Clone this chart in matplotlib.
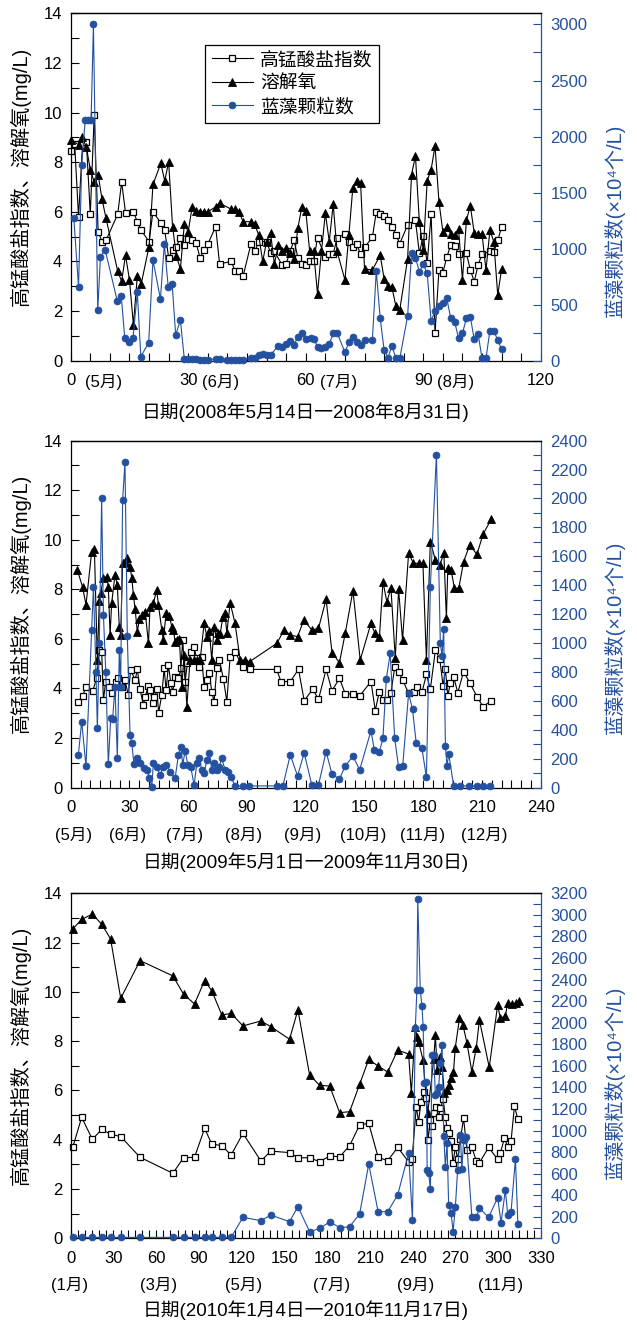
import matplotlib
matplotlib.use('Agg')
import matplotlib.pyplot as plt
from matplotlib.ticker import MultipleLocator
from matplotlib.lines import Line2D

FAM = ['Liberation Sans', 'Noto Sans CJK SC', 'DejaVu Sans']
plt.rcParams['font.family'] = FAM
plt.rcParams['axes.unicode_minus'] = False
BLUE = '#23509f'

# ---------------- Panel 1 : 2008 ----------------
p1_sq_day = [0, 1, 2, 3, 4, 5, 6, 7, 8, 9,
             12, 13, 14, 16, 17, 18, 20, 21, 23, 24, 25, 26, 27, 28, 29, 30, 31, 32, 33, 34, 35, 37, 38,
             41, 42, 43, 44, 46, 47, 48, 50, 51, 52, 54, 55, 56, 57, 58, 59, 60,
             61, 62, 63, 65, 66, 67, 68, 70, 71, 72, 73, 74, 75, 77, 78, 79, 80, 81, 82, 83, 84, 86, 88,
             89, 90, 91, 92, 93, 94, 95, 96, 97, 98, 99, 101, 102, 103, 104, 105, 107, 108, 109, 110]
p1_sq_val = [8.45, 8.75, 5.8, 8.7, 8.8, 5.9, 9.9, 5.2, 4.8, 4.85,
             5.9, 7.2, 5.95, 6.0, 5.6, 5.25, 4.8, 6.0, 5.55, 5.25, 4.15, 4.45, 4.6, 4.95, 4.65, 4.9, 4.85,
             4.75, 4.15, 4.45, 4.7, 5.4, 3.9,
             4.0, 3.6, 3.6, 3.4, 4.7, 4.4, 4.8, 4.8, 4.35, 4.4, 3.85, 3.9, 4.4, 4.85, 4.15, 3.9, 3.85,
             4.0, 4.0, 4.96, 4.17, 4.29, 4.31, 4.93, 5.12, 4.77, 4.58, 4.69, 4.29, 4.57, 4.97, 5.98, 5.93,
             5.85, 5.66, 5.40, 5.07, 4.72, 5.47, 5.65, 4.33, 5.04, 3.92, 5.90, 1.10, 3.66, 3.55, 4.17, 4.66,
             4.64, 4.30, 4.33, 3.66, 3.19, 3.86, 4.29, 4.40, 4.37, 4.85, 5.38]
p1_do_day = [0, 2, 3, 4, 5, 6, 7, 8, 9,
             12, 13, 14, 15, 16, 17, 18, 20, 21, 23, 24, 25, 26, 27, 28, 29, 30, 31, 32, 33, 34, 35, 37, 38,
             41, 42, 43, 44, 46, 47, 48, 49, 50, 51, 52, 53, 54, 55, 56, 57, 58, 59, 60,
             61, 62, 63, 64, 65, 66, 67, 68, 70, 71, 72, 73, 74, 75, 77, 79, 80, 81, 82, 83, 84, 86, 87,
             88, 89, 90, 91, 92, 93, 94, 95, 96, 97, 98, 99, 100, 101, 102, 103, 104, 105, 106, 107, 108,
             109, 110]
p1_do_val = [8.9, 8.7, 9.0, 8.6, 7.7, 7.2, 7.5, 6.5, 5.75,
             3.6, 3.2, 4.25, 3.25, 1.45, 3.4, 3.1, 4.6, 7.1, 7.95, 7.25, 8.0, 5.4, 4.2, 3.7, 5.5, 5.2, 6.2,
             6.05, 6.0, 6.0, 6.0, 6.2, 6.35,
             6.1, 6.1, 6.0, 5.6, 5.6, 5.5, 5.05, 4.0, 4.8, 5.15, 3.9, 4.65, 4.4, 4.55, 4.35, 4.1, 5.35, 6.2,
             6.05,
             4.4, 4.4, 2.7, 4.4, 5.95, 4.8, 6.3, 4.4, 3.25, 5.05, 6.95, 7.25, 7.15, 3.7, 3.65, 4.25, 3.3,
             3.0, 2.95, 2.2, 2.05, 4.1, 7.5, 8.25, 5.6, 4.45, 7.25, 7.7, 8.65, 6.4, 5.2, 5.4, 5.1, 5.05,
             5.3, 3.25, 5.65, 6.25, 5.15, 5.1, 5.1, 3.65, 5.25, 4.8, 2.65, 3.7]
p1_cy_day = [0.8, 2, 2.8, 3.7, 4.5, 5.2, 5.8, 6.9, 7.6, 8.8, 11.9, 12.9, 13.8, 14.8, 15.9, 17, 17.9,
             19.9, 21, 22.9, 23.9, 24.9, 25.9, 26.8, 28, 29, 30, 31, 32, 33, 34, 35, 37, 38, 40, 41, 42,
             43, 44, 46, 47, 48, 49, 50, 51, 53, 54, 55, 56, 57, 58, 59, 60, 61.4, 62.2, 63, 64, 65, 66,
             67, 68, 70, 71, 72, 73, 74, 75, 77, 78, 79, 80, 81, 82, 83, 84, 86, 87, 88, 89, 90, 91, 92,
             93, 94, 95, 96, 97, 98, 99, 100, 101, 102, 103, 104, 105, 106, 107, 108, 109, 110]
p1_cy_val = [1270, 660, 1745, 2147, 2147, 2147, 3000, 452, 928, 987, 532, 580, 199, 164, 199, 610, 36,
             160, 898, 550, 1040, 654, 681, 229, 363, 15, 15, 15, 15, 10, 10, 10, 15, 15, 10, 10, 10,
             10, 10, 20, 20, 50, 60, 50, 50, 134, 120, 150, 175, 140, 214, 250, 190, 199, 190, 120, 110,
             125, 146, 244, 250, 74, 164, 214, 170, 140, 184, 184, 800, 378, 95, 27, 134, 20, 20, 398,
             957, 919, 794, 860, 779, 354, 443, 490, 517, 556, 378, 348, 199, 244, 378, 393, 190, 238,
             20, 20, 265, 265, 184, 101]

# ---------------- Panel 2 : 2009 ----------------
p2_do_day = [3.4, 6.1, 7.8, 10.7, 12.1, 13.6, 14.6, 15.3, 16.7, 18.4, 19.2, 20.1, 20.9, 22.6, 23.8,
             24.8, 25.5, 26.5, 27.7, 28.9, 30.3, 31.2, 32.0, 32.9, 34.0, 35.1, 36.3, 38.0, 39.7, 40.5,
             42.2, 43.9, 44.8, 46.5, 47.3, 48.7, 50.4, 51.6, 52.4, 53.3, 54.1, 55.5, 56.7, 57.9, 59.3,
             60.9, 62.7, 64.4, 66.1, 68.1, 69.5, 70.8, 72.0, 73.2, 74.6, 75.4, 76.3, 77.7, 78.8, 79.7,
             81.4, 83.9, 86.5, 89.1, 91.3, 105.2, 109.0, 112.1, 115.8, 119.0, 123.1, 126.5, 130.4,
             133.4, 137.2, 140.2, 144.1, 147.8, 153.3, 155.3, 157.6, 159.4, 161.4, 163.5, 165.7, 167.4,
             169.4, 172.5, 175.0, 177.6, 179.8, 181.6, 183.6, 186.2, 188.4, 190.5, 191.8, 192.5, 194.2,
             195.9, 198.1, 200.6, 203.7, 207.4, 210.5, 214.6]
p2_do_val = [8.78, 8.08, 7.37, 9.52, 9.61, 5.15, 7.54, 7.84, 8.44, 8.51, 8.11, 6.16, 7.44, 8.58, 8.18,
             6.49, 6.16, 9.05, 9.12, 9.25, 8.91, 8.44, 7.77, 7.19, 6.29, 6.79, 6.97, 7.10, 5.82, 7.30,
             7.44, 7.97, 7.37, 6.36, 5.96, 7.03, 6.92, 6.49, 6.36, 5.89, 5.96, 5.98, 4.07, 5.34, 3.27,
             5.15, 5.15, 5.15, 5.15, 6.63, 6.09, 6.33, 5.15, 6.49, 5.96, 6.23, 6.20, 6.90, 7.03, 6.23,
             7.46, 6.63, 5.15, 5.15, 5.08, 5.82, 6.36, 6.16, 6.09, 6.76, 6.36, 6.43, 7.60,
             5.45, 5.04, 6.25, 7.95, 5.15, 6.63, 6.23, 6.06, 8.31, 7.50, 8.04, 5.22, 8.00,
             5.96, 9.45, 9.05, 9.05, 9.05, 5.15, 9.92, 9.18, 8.98, 9.45, 6.83, 8.85, 8.78,
             8.04, 8.04, 9.12, 9.79, 9.41, 10.22, 10.82]
p2_sq_day = [3.9, 6.1, 7.8, 11.2, 13.3, 14.6, 15.8, 16.7, 17.9, 19.7, 20.9, 23.1, 24.3, 26.0, 27.7,
             29.4, 30.6, 32.9, 34.0, 35.4, 37.1, 38.0, 39.7, 40.5, 41.9, 42.6, 43.9, 44.9, 46.5, 47.7,
             48.7, 49.9, 51.1, 52.1, 53.3, 55.0, 56.2, 57.2, 58.4, 59.6, 61.3, 62.7, 64.4, 65.7, 66.9,
             68.1, 69.5, 70.8, 72.0, 73.2, 74.6, 75.9, 78.0, 79.7, 81.4, 83.9, 87.9, 91.3, 105.2, 107.3,
             112.1, 116.3, 119.2, 123.6, 126.5, 130.4, 133.4, 137.2, 140.2, 144.1, 147.5, 153.3, 155.5,
             157.5, 159.4, 161.4, 163.5, 165.4, 167.4, 169.5, 172.5, 175.1, 176.8, 179.4, 181.6, 183.6,
             186.2, 188.4, 190.1, 191.3, 192.5, 193.8, 195.5, 197.6, 200.6, 203.7, 207.4, 210.5, 214.6]
p2_sq_val = [3.47, 3.70, 4.07, 3.91, 4.41, 5.55, 5.49, 3.54, 4.28, 4.07, 3.81, 4.28, 4.41, 4.07, 4.34,
             3.74, 4.75, 4.34, 4.77, 3.97, 3.33, 3.67, 4.10, 3.94, 3.40, 3.67, 3.97, 3.03, 3.74, 4.81,
             3.94, 4.95, 4.21, 3.87, 4.48, 4.41, 4.81, 5.96, 4.28, 5.02, 5.49, 5.69, 5.22, 4.88, 5.28,
             4.07, 4.34, 4.61, 3.87, 3.47, 4.81, 5.15, 4.37, 3.47, 5.28, 5.49, 4.85, 4.77, 4.77, 4.28,
             4.28, 4.77, 3.51, 3.97, 3.56, 4.77, 3.91, 4.41, 3.78, 3.78, 3.70, 4.28, 3.11,
             3.87, 3.54, 3.54, 3.83, 4.85, 4.68, 4.34, 3.81, 3.87, 4.05, 3.87, 4.57, 3.97,
             5.55, 5.20, 4.11, 4.77, 3.70, 4.21, 4.48, 3.83, 4.68, 4.24, 3.67, 3.27, 3.50]
p2_cy_day = [3.9, 5.6, 7.8, 10.7, 11.6, 12.9, 13.6, 14.6, 15.8, 16.7, 17.9, 19.2, 20.4, 21.4, 22.6,
             23.8, 24.8, 25.5, 26.5, 27.7, 28.9, 30.3, 31.2, 32.3, 34.0, 35.4, 37.5, 38.8, 40.2, 41.4,
             42.2, 43.9, 45.6, 47.3, 48.7, 50.7, 53.3, 55.0, 56.2, 57.2, 58.4, 59.8, 61.3, 63.0, 64.4,
             65.7, 66.9, 68.1, 69.5, 70.8, 72.0, 73.2, 74.6, 75.9, 77.1, 78.8, 80.5, 81.7, 83.9, 87.9,
             90.8, 105.2, 108.3, 112.1, 115.8, 119.2, 123.1, 126.5, 130.4, 133.4, 137.2, 140.2, 144.1,
             147.5, 153.3, 155.0, 157.6, 159.4, 161.1, 163.1, 165.4, 167.4, 169.5, 172.5, 174.5, 176.4,
             179.3, 181.6, 183.6, 186.7, 188.7, 189.6, 190.4, 191.3, 192.1, 193.0, 195.5, 198.9, 203.2,
             207.4, 210.5, 214.2]
p2_cy_val = [226, 456, 150, 1090, 1390, 802, 410, 998, 2001, 1194, 802, 161, 480, 473, 699,
             203, 952, 699, 1990, 2250, 1049, 364, 307, 161, 203, 168, 134, 122, 69, 7,
             168, 145, 88, 145, 157, 111, 65, 226, 284, 157, 256, 157, 141, 18, 168,
             203, 122, 99, 191, 237, 122, 168, 122, 145, 203, 122, 111, 76, 12, 12,
             12, 12, 12, 226, 81, 240, 18, 18, 249, 92, 60, 150, 219,
             122, 394, 260, 249, 341, 749, 929, 341, 141, 150, 652, 542, 307,
             272, 71, 1386, 2301, 998, 911, 1097, 288, 150, 233, 12, 12, 12,
             12, 12, 12]

# ---------------- Panel 3 : 2010 ----------------
p3_do_day = [1.4, 7.7, 15.2, 21.8, 28.0, 35.1, 48.7, 71.7, 79.2, 86.9, 94.0, 99.0, 106.1, 112.6,
             120.9, 133.5, 140.5, 153.6, 159.5, 167.7, 174.7, 181.8, 188.8, 195.8, 202.8, 209.2, 215.8,
             222.5, 229.5, 237.2, 239.1, 241.9, 243.1, 244.2, 247.3, 250.6, 254.8, 256.0, 257.2, 259.0,
             260.7, 262.3, 264.0, 265.7, 267.0, 268.7, 269.9, 272.9, 275.3, 278.1, 281.6, 284.7, 286.9,
             293.8, 299.7, 301.6, 305.1, 306.8, 309.8, 312.9, 314.5]
p3_do_val = [12.55, 12.94, 13.16, 12.74, 12.15, 9.74, 11.27, 10.65, 9.91, 9.51, 10.46, 10.05, 9.06, 9.13,
             8.62, 8.82, 8.59, 8.08, 9.27, 6.63, 6.21, 6.18, 5.10, 5.14, 6.25, 7.26, 6.99,
             6.75, 7.64, 7.48, 5.88, 8.56, 8.18, 7.98, 7.24, 5.07, 7.26, 8.25, 6.83, 7.37,
             6.97, 5.88, 6.02, 6.22, 6.49, 6.76, 7.71, 8.93, 8.66, 7.94, 6.76, 7.74, 8.86,
             6.94, 9.47, 8.93, 9.02, 9.56, 9.51, 9.54, 9.64]
p3_sq_day = [1.4, 7.7, 15.2, 21.8, 28.0, 35.1, 48.7, 71.7, 79.2, 86.9, 94.0, 99.0, 106.1, 112.6,
             120.9, 133.5, 140.5, 153.6, 159.5, 167.7, 174.7, 181.8, 188.8, 195.8, 202.8, 209.2, 215.8,
             222.5, 229.5, 237.2, 239.6, 242.6, 244.2, 245.9, 247.7, 249.6, 250.8, 252.5, 253.6, 255.3,
             256.7, 258.3, 259.5, 261.4, 263.0, 264.2, 265.3, 267.0, 268.4, 270.0, 271.6, 273.5, 275.8,
             278.1, 281.6, 284.7, 286.9, 293.4, 299.7, 301.6, 304.4, 306.8, 309.1, 311.5, 313.9]
p3_sq_val = [3.69, 4.91, 4.02, 4.42, 4.23, 4.13, 3.29, 2.64, 3.27, 3.29, 4.46, 3.83, 3.76, 3.38,
             4.26, 3.14, 3.54, 3.48, 3.27, 3.27, 3.11, 3.34, 3.31, 3.76, 4.60, 4.67, 3.29,
             3.15, 3.69, 3.11, 3.21, 5.34, 4.73, 5.55, 5.95, 5.68, 3.99, 4.80, 4.56, 5.07,
             5.32, 4.94, 5.28, 5.64, 4.94, 4.46, 4.26, 3.96, 3.04, 3.72, 3.21, 4.02, 4.87,
             3.58, 3.69, 3.15, 3.07, 3.69, 3.21, 3.45, 4.06, 3.72, 3.95, 5.37, 4.83]
p3_cy_day = [1.4, 7.7, 15.2, 21.8, 28.0, 35.1, 48.7, 71.7, 79.2, 86.9, 94.0, 99.0, 106.1, 112.6,
             120.9, 133.5, 140.5, 153.6, 159.5, 167.7, 175.2, 181.8, 188.8, 195.8, 202.8, 209.2, 215.8,
             222.5, 229.5, 237.2, 239.9, 241.9, 243.0, 243.6, 245.4, 246.6, 247.4, 248.3, 249.7,
             250.2, 251.3, 252.5, 253.6, 254.8, 256.0, 257.2, 258.3, 259.5, 260.7, 261.9, 263.0, 264.2,
             265.3, 267.0, 268.4, 270.0, 271.6, 273.5, 274.6, 275.8, 277.7, 281.6, 284.7, 286.9, 293.4,
             299.7, 302.1, 305.1, 306.8, 309.1, 312.2, 313.9]
p3_cy_val = [9, 9, 9, 9, 9, 9, 9, 9, 9, 9, 9, 9, 9, 9,
             195, 164, 216, 155, 294, 62, 93, 155, 99, 108, 226, 689, 247,
             247, 402, 788, 170, 1948, 2303, 3144, 2303, 2155, 1957, 1444, 1453,
             634, 603, 454, 1700, 1700, 1329, 1345, 1407, 1629, 1793, 949, 659, 887,
             309, 238, 62, 288, 634, 958, 640, 912, 943, 195, 195, 278, 195,
             377, 145, 448, 216, 247, 736, 133]

panels = [
    dict(sq=(p1_sq_day, p1_sq_val), do=(p1_do_day, p1_do_val), cy=(p1_cy_day, p1_cy_val),
         xmax=120, rmax=3100, rmajor=500, rminor=250,
         rect=[0.111, 0.728, 0.738, 0.262],
         xlabel='日期(2008年5月14日一2008年8月31日)',
         inline_months=[(0, '(5月)'), (30, '(6月)'), (60, '(7月)'), (90, '(8月)')],
         row_months=[], xlabel_y=-0.165, rlabel_y=0.40),
    dict(sq=(p2_sq_day, p2_sq_val), do=(p2_do_day, p2_do_val), cy=(p2_cy_day, p2_cy_val),
         xmax=240, rmax=2400, rmajor=200, rminor=100,
         rect=[0.111, 0.406, 0.738, 0.2617],
         xlabel='日期(2009年5月1日一2009年11月30日)',
         inline_months=[],
         row_months=[(1.5, '(5月)'), (29, '(6月)'), (58, '(7月)'), (88, '(8月)'), (118.5, '(9月)'),
                     (149.5, '(10月)'), (179.5, '(11月)'), (211, '(12月)')],
         xlabel_y=-0.232, rlabel_y=0.43),
    dict(sq=(p3_sq_day, p3_sq_val), do=(p3_do_day, p3_do_val), cy=(p3_cy_day, p3_cy_val),
         xmax=330, rmax=3200, rmajor=200, rminor=100,
         rect=[0.111, 0.0661, 0.738, 0.2602],
         xlabel='日期(2010年1月4日一2010年11月17日)',
         inline_months=[],
         row_months=[(-1, '(1月)'), (62, '(3月)'), (121.5, '(5月)'), (183, '(7月)'), (242, '(9月)'),
                     (302, '(11月)')],
         xlabel_y=-0.226, rlabel_y=0.45),
]

fig = plt.figure(figsize=(6.37, 13.26), dpi=100)

sq_kw = dict(color='black', lw=0.8, marker='s', ms=3.8, mfc='white', mec='black', mew=0.9)
do_kw = dict(color='black', lw=0.8, marker='^', ms=5.2, mfc='black', mec='black', mew=0.6)
cy_kw = dict(color=BLUE, lw=0.8, marker='o', ms=5.0, mfc=BLUE, mec=BLUE, mew=0.5)

for i, p in enumerate(panels):
    ax = fig.add_axes(p['rect'])
    ax2 = ax.twinx()
    ax.plot(*p['sq'], **sq_kw, clip_on=False)
    ax.plot(*p['do'], **do_kw, clip_on=False)
    ax2.plot(*p['cy'], **cy_kw, clip_on=False)

    ax.set_xlim(0, p['xmax'])
    ax.set_ylim(0, 14)
    ax.xaxis.set_major_locator(MultipleLocator(30))
    ax.xaxis.set_minor_locator(MultipleLocator(5))
    ax.yaxis.set_major_locator(MultipleLocator(2))
    ax.yaxis.set_minor_locator(MultipleLocator(1))
    ax.tick_params(which='both', direction='in', length=5.5, width=0.8, color='black',
                   top=False, right=False)
    ax.tick_params(axis='x', which='major', labelsize=12, pad=9)
    ax.tick_params(axis='y', which='major', labelsize=12, pad=6)
    for s in ['left', 'top', 'bottom']:
        ax.spines[s].set_linewidth(0.9)
    ax.spines['right'].set_visible(False)

    ax2.set_ylim(0, p['rmax'])
    ax2.yaxis.set_major_locator(MultipleLocator(p['rmajor']))
    ax2.yaxis.set_minor_locator(MultipleLocator(p['rminor']))
    ax2.tick_params(axis='y', which='both', direction='in', length=5.5, width=0.8,
                    color=BLUE, labelcolor=BLUE, labelsize=12, pad=7)
    ax2.spines['right'].set_color(BLUE)
    ax2.spines['right'].set_linewidth(0.9)
    ax2.spines['left'].set_visible(False)
    ax2.spines['top'].set_linewidth(0.9)
    ax2.spines['bottom'].set_visible(False)

    for d, t in p['inline_months']:
        ax.annotate(t, xy=(d, 0), xycoords=ax.get_xaxis_transform(), xytext=(14, -26),
                    textcoords='offset pixels', ha='left', va='baseline', fontsize=12,
                    annotation_clip=False)
    for d, t in p['row_months']:
        ax.annotate(t, xy=(d, 0), xycoords=ax.get_xaxis_transform(), xytext=(0, -52),
                    textcoords='offset pixels', ha='center', va='baseline', fontsize=12,
                    annotation_clip=False)

    ax.set_xlabel(p['xlabel'], fontsize=13.5, va='baseline')
    ax.xaxis.set_label_coords(0.5, p['xlabel_y'])
    ax.set_ylabel('高锰酸盐指数、溶解氧(mg/L)', fontsize=14.5, va='center')
    ax.yaxis.set_label_coords(-0.108, 0.53)
    ax2.set_ylabel('蓝藻颗粒数(×10⁴个/L)', fontsize=14.5, va='center', color=BLUE, rotation=90)
    ax2.yaxis.set_label_coords(1.156, p['rlabel_y'])

    if i == 0:
        handles = [Line2D([], [], **sq_kw), Line2D([], [], **do_kw), Line2D([], [], **cy_kw)]
        leg = ax2.legend(handles, ['高锰酸盐指数', '溶解氧', '蓝藻颗粒数'], loc='upper left',
                         bbox_to_anchor=(0.2857, 0.909), fontsize=13.5, frameon=True,
                         fancybox=False, edgecolor='black', framealpha=1, borderpad=0.35,
                         handlelength=2.2, handletextpad=0.4, labelspacing=0.32,
                         borderaxespad=0)
        leg.get_frame().set_linewidth(0.9)

fig.savefig('out.png', dpi=100)
